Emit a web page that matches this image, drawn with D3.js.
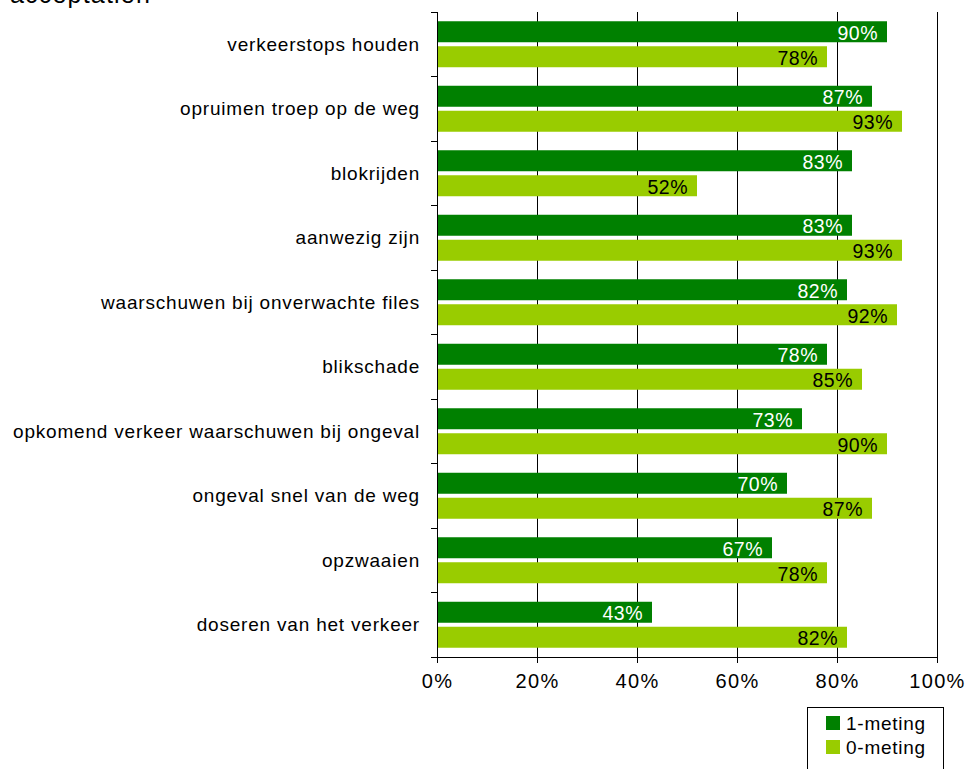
<!DOCTYPE html>
<html>
<head>
<meta charset="utf-8">
<script src="https://cdn.jsdelivr.net/npm/d3@7"></script>
<style>
  html, body { margin: 0; padding: 0; background: #fff; }
  svg { display: block; font-family: "Liberation Sans", Arial, sans-serif; }
</style>
</head>
<body>
<svg id="chart" width="974" height="769"></svg>
<script>
const categories = [
  "verkeerstops houden",
  "opruimen troep op de weg",
  "blokrijden",
  "aanwezig zijn",
  "waarschuwen bij onverwachte files",
  "blikschade",
  "opkomend verkeer waarschuwen bij ongeval",
  "ongeval snel van de weg",
  "opzwaaien",
  "doseren van het verkeer"
];
const meting1 = [90, 87, 83, 83, 82, 78, 73, 70, 67, 43];
const meting0 = [78, 93, 52, 93, 92, 85, 90, 87, 78, 82];
const seriesNames = ["1-meting", "0-meting"];
const seriesColors = ["#008000", "#99CC00"];
const labelColors = ["#ffffff", "#000000"];
const xTicks = [0, 20, 40, 60, 80, 100];
const titleText = "acceptatien";

(function () {
const svg = d3.select("#chart");

const pLeft = 437, pRight = 937, pTop = 12, pBottom = 657;

const x = d3.scaleLinear().domain([0, 100]).range([pLeft, pRight]);
const y = d3.scaleBand().domain(categories).range([pTop, pBottom])
  .paddingInner(0.287).paddingOuter(0.1435);
const ySub = d3.scaleBand().domain(seriesNames).range([0, y.bandwidth()]).paddingInner(0.16);

// title (clipped at top, as in the reference)
svg.append("text").attr("x", 10).attr("y", 3)
  .attr("font-size", 25).attr("letter-spacing", 1.2).attr("fill", "#000").text(titleText);

// gridlines
svg.append("g").selectAll("line").data(xTicks.slice(1)).join("line")
  .attr("x1", d => x(d)).attr("x2", d => x(d))
  .attr("y1", pTop).attr("y2", pBottom)
  .attr("stroke", "#000").attr("stroke-width", 1).attr("shape-rendering", "crispEdges");

// bars
const data = categories.map((c, i) => ({ cat: c, vals: [meting1[i], meting0[i]] }));
const groups = svg.append("g").selectAll("g").data(data).join("g")
  .attr("transform", d => `translate(0,${y(d.cat)})`);

groups.selectAll("rect").data(d => d.vals.map((v, k) => ({ v, k }))).join("rect")
  .attr("x", x(0))
  .attr("y", d => ySub(seriesNames[d.k]))
  .attr("width", d => x(d.v) - x(0))
  .attr("height", ySub.bandwidth())
  .attr("fill", d => seriesColors[d.k]);

groups.selectAll("text").data(d => d.vals.map((v, k) => ({ v, k }))).join("text")
  .attr("x", d => x(d.v) - 9)
  .attr("y", d => ySub(seriesNames[d.k]) + ySub.bandwidth() / 2 + 1)
  .attr("text-anchor", "end")
  .attr("dominant-baseline", "central")
  .attr("font-size", 19.5)
  .attr("letter-spacing", 0.5)
  .attr("fill", d => labelColors[d.k])
  .text(d => d.v + "%");

// y axis
const yAxisG = svg.append("g");
yAxisG.append("line").attr("x1", pLeft).attr("x2", pLeft).attr("y1", pTop).attr("y2", pBottom)
  .attr("stroke", "#000").attr("shape-rendering", "crispEdges");
const boundaries = d3.range(categories.length + 1).map(i => pTop + i * y.step());
yAxisG.selectAll("line.t").data(boundaries).join("line").attr("class", "t")
  .attr("x1", pLeft - 6).attr("x2", pLeft).attr("y1", d => d).attr("y2", d => d)
  .attr("stroke", "#000").attr("shape-rendering", "crispEdges");
yAxisG.selectAll("text").data(categories).join("text")
  .attr("x", 420)
  .attr("y", d => y(d) + y.bandwidth() / 2)
  .attr("text-anchor", "end")
  .attr("dominant-baseline", "central")
  .attr("font-size", 19)
  .attr("letter-spacing", 0.8)
  .attr("fill", "#000")
  .text(d => d);

// x axis
const xAxis = d3.axisBottom(x).tickValues(xTicks).tickSize(6).tickPadding(11)
  .tickFormat(d => d + "%");
const xg = svg.append("g").attr("transform", `translate(0,${pBottom})`).call(xAxis);
xg.select(".domain").remove();
xg.append("line").attr("x1", pLeft - 6).attr("x2", pRight).attr("y1", 0).attr("y2", 0)
  .attr("stroke", "#000").attr("shape-rendering", "crispEdges");
xg.selectAll(".tick line").attr("stroke", "#000").attr("shape-rendering", "crispEdges");
xg.selectAll(".tick text").attr("font-size", 20).attr("letter-spacing", 1.3)
  .attr("font-family", "Liberation Sans, Arial, sans-serif").attr("fill", "#000");

// legend
const lg = svg.append("g");
lg.append("rect").attr("x", 807.5).attr("y", 707.5).attr("width", 136).attr("height", 70)
  .attr("fill", "#fff").attr("stroke", "#000").attr("stroke-width", 1);
const items = lg.selectAll("g").data(seriesNames).join("g")
  .attr("transform", (d, i) => `translate(826,${723 + i * 24})`);
items.append("rect").attr("x", 0).attr("y", -7).attr("width", 14).attr("height", 14)
  .attr("fill", (d, i) => seriesColors[i]);
items.append("text").attr("x", 20).attr("y", 0).attr("dominant-baseline", "central")
  .attr("font-size", 19).attr("letter-spacing", 0.75).attr("fill", "#000").text(d => d);
})();
</script>
</body>
</html>
